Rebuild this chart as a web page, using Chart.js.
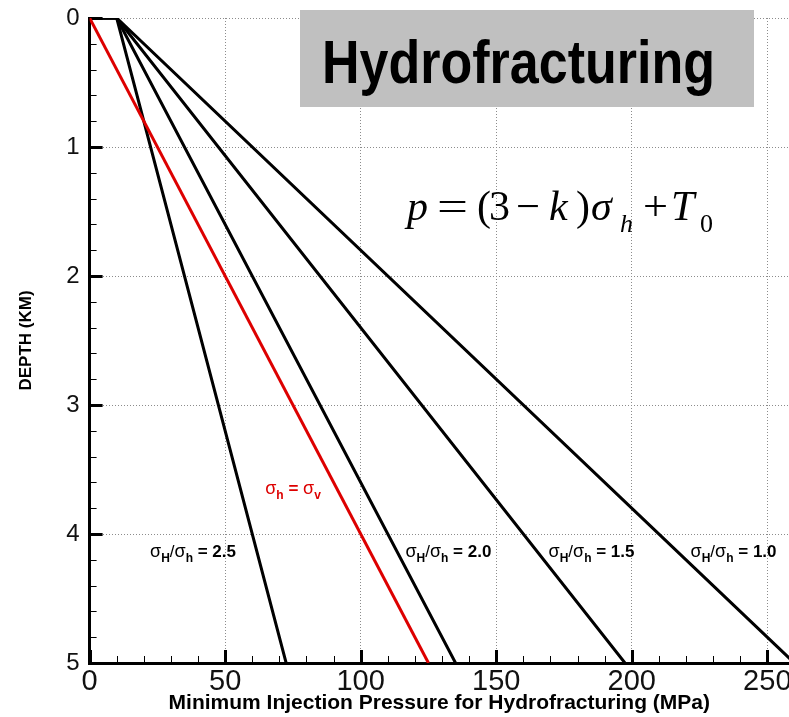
<!DOCTYPE html>
<html>
<head>
<meta charset="utf-8">
<script src="https://cdn.jsdelivr.net/npm/chart.js@4"></script>
<style>
  html, body { margin: 0; padding: 0; background: #fff; }
</style>
</head>
<body>
<canvas id="chart" width="789" height="717"></canvas>
<script>
// depth (km) of the points on each curve
const depthKm = [0, 0, 5];
const redDepthKm = [0, 5];
// injection pressure (MPa) for each sigmaH/sigmah ratio
const pressRatio25 = [0, 10, 72.5];
const pressRatio20 = [0, 10, 135];
const pressRatio15 = [0, 10, 197.5];
const pressRatio10 = [0, 10, 260];
// sigma h = sigma v line
const pressLitho = [0, 125];

const xTicks = [0, 50, 100, 150, 200, 250];
const yTicks = [0, 1, 2, 3, 4, 5];

const SANS = '"Liberation Sans", Arial, sans-serif';
const SERIF = '"Liberation Serif", "Times New Roman", serif';
const RED = '#dd0000';

function toPoints(xs, ys) {
    return xs.map((v, i) => ({ x: v, y: ys[i] }));
}

function lineSet(label, xs, ys, color) {
    return {
        label: label,
        data: toPoints(xs, ys),
        showLine: true,
        borderColor: color,
        borderWidth: 3,
        pointRadius: 0,
        tension: 0,
        fill: false
    };
}

// draw a row of text pieces: [text, font, dy]
function drawPieces(ctx, x, y, pieces, color) {
    ctx.fillStyle = color;
    ctx.textBaseline = 'alphabetic';
    ctx.textAlign = 'left';
    pieces.forEach(p => {
        ctx.font = p[1];
        ctx.fillText(p[0], x, y + (p[2] || 0));
        x += ctx.measureText(p[0]).width;
    });
}

function ratioLabel(val) {
    return [
        ['σ', '18px ' + SANS, 0],
        ['H', 'bold 12px ' + SANS, 5],
        ['/', '17px ' + SANS, 0],
        ['σ', '18px ' + SANS, 0],
        ['h', 'bold 12px ' + SANS, 5],
        [' = ' + val, 'bold 17px ' + SANS, 0]
    ];
}

// text squeezed or stretched to a given width
function fitText(ctx, txt, font, x, y, w) {
    ctx.font = font;
    const tw = ctx.measureText(txt).width;
    ctx.save();
    ctx.translate(x, y);
    ctx.scale(w / tw, 1);
    ctx.fillText(txt, 0, 0);
    ctx.restore();
}

// tick marks point into the plot, major and minor
const inwardTicks = {
    id: 'inwardTicks',
    beforeDatasetsDraw(chart) {
        const { ctx, chartArea: a, scales: { x, y } } = chart;
        ctx.save();
        ctx.strokeStyle = '#000';
        for (let i = 0; i <= 25; i++) {
            const px = Math.round(x.getPixelForValue(i * 10)) + 0.5;
            const major = i % 5 === 0;
            ctx.lineWidth = major ? 3 : 1;
            ctx.beginPath();
            ctx.moveTo(px, a.bottom);
            ctx.lineTo(px, a.bottom - (major ? 13 : 7));
            ctx.stroke();
        }
        for (let i = 0; i <= 25; i++) {
            const py = Math.round(y.getPixelForValue(i / 5)) + 0.5;
            const major = i % 5 === 0;
            ctx.lineWidth = major ? 3 : 1;
            ctx.beginPath();
            ctx.moveTo(a.left, py);
            ctx.lineTo(a.left + (major ? 13 : 7), py);
            ctx.stroke();
        }
        ctx.restore();
    }
};

const annotations = {
    id: 'annotations',
    afterDraw(chart) {
        const { ctx, scales: { x, y } } = chart;
        ctx.save();

        // curve labels
        const labelDepth = 4.18;
        drawPieces(ctx, x.getPixelForValue(22.3), y.getPixelForValue(labelDepth), ratioLabel('2.5'), '#000');
        drawPieces(ctx, x.getPixelForValue(116.5), y.getPixelForValue(labelDepth), ratioLabel('2.0'), '#000');
        drawPieces(ctx, x.getPixelForValue(169.3), y.getPixelForValue(labelDepth), ratioLabel('1.5'), '#000');
        drawPieces(ctx, x.getPixelForValue(221.7), y.getPixelForValue(labelDepth), ratioLabel('1.0'), '#000');
        drawPieces(ctx, x.getPixelForValue(64.8), y.getPixelForValue(3.69), [
            ['σ', '18px ' + SANS, 0],
            ['h', 'bold 12px ' + SANS, 5],
            [' = ', 'bold 17px ' + SANS, 0],
            ['σ', '18px ' + SANS, 0],
            ['v', 'bold 12px ' + SANS, 5]
        ], RED);

        // title box
        ctx.fillStyle = '#c0c0c0';
        ctx.fillRect(300, 10, 454, 97);
        ctx.fillStyle = '#000';
        ctx.textBaseline = 'alphabetic';
        fitText(ctx, 'Hydrofracturing', 'bold 62px ' + SANS, 322, 83, 393);

        // formula p = (3 - k) sigma_h + T_0
        const it = 'italic 42px ' + SERIF;
        const rg = '42px ' + SERIF;
        const sub = 'italic 26px ' + SERIF;
        const subr = '26px ' + SERIF;
        const base = 220;
        const sb = 232;
        [
            ['p', it, 407, base], ['(', rg, 477, base], ['3', rg, 489, base],
            ['k', it, 549, base], [')', rg, 576, base], ['σ', it, 591, base],
            ['h', sub, 620, sb], ['T', it, 671, base], ['0', subr, 700, sb]
        ].forEach(p => {
            ctx.font = p[1];
            ctx.fillText(p[0], p[2], p[3]);
        });
        // operators are wider in the reference
        fitText(ctx, '=', rg, 437, base, 31);
        fitText(ctx, '−', rg, 516, base, 24);
        fitText(ctx, '+', rg, 643, base, 25);

        ctx.restore();
    }
};

new Chart(document.getElementById('chart'), {
    type: 'scatter',
    data: {
        datasets: [
            lineSet('σh = σv', pressLitho, redDepthKm, RED),
            lineSet('σH/σh = 2.5', pressRatio25, depthKm, '#000'),
            lineSet('σH/σh = 2.0', pressRatio20, depthKm, '#000'),
            lineSet('σH/σh = 1.5', pressRatio15, depthKm, '#000'),
            lineSet('σH/σh = 1.0', pressRatio10, depthKm, '#000')
        ]
    },
    options: {
        responsive: false,
        animation: false,
        devicePixelRatio: 1,
        layout: { padding: { left: 0, right: 0, top: 18, bottom: 0 } },
        plugins: {
            legend: { display: false },
            tooltip: { enabled: false }
        },
        scales: {
            x: {
                type: 'linear',
                position: 'bottom',
                min: 0,
                max: 258,
                afterBuildTicks: s => { s.ticks = xTicks.map(v => ({ value: v })); },
                afterFit: s => { s.height = 54; s.paddingLeft = 0; s.paddingRight = 0; },
                ticks: {
                    color: '#111',
                    font: { family: SANS, size: 29, lineHeight: 1 },
                    padding: 4,
                    maxRotation: 0,
                    autoSkip: false
                },
                grid: { color: '#8c8c8c', lineWidth: 1, drawTicks: false },
                border: { display: true, color: '#000', width: 3, dash: [1, 2] },
                title: {
                    display: true,
                    text: 'Minimum Injection Pressure for Hydrofracturing (MPa)',
                    color: '#000',
                    font: { family: SANS, size: 21, weight: 'bold', lineHeight: 1 },
                    padding: { top: 0, bottom: 3 }
                }
            },
            y: {
                type: 'linear',
                reverse: true,
                min: 0,
                max: 5,
                afterBuildTicks: s => { s.ticks = yTicks.map(v => ({ value: v })); },
                afterFit: s => { s.width = 89.6; s.paddingTop = 0; s.paddingBottom = 0; },
                ticks: {
                    color: '#111',
                    font: { family: SANS, size: 24, lineHeight: 1 },
                    padding: 10,
                    autoSkip: false
                },
                grid: { color: '#8c8c8c', lineWidth: 1, drawTicks: false },
                border: { display: true, color: '#000', width: 3, dash: [1, 2] },
                title: {
                    display: true,
                    text: 'DEPTH (KM)',
                    color: '#000',
                    font: { family: SANS, size: 17, weight: 'bold', lineHeight: 1 },
                    padding: { top: 18, bottom: 0 }
                }
            }
        }
    },
    plugins: [inwardTicks, annotations]
});
</script>
</body>
</html>
